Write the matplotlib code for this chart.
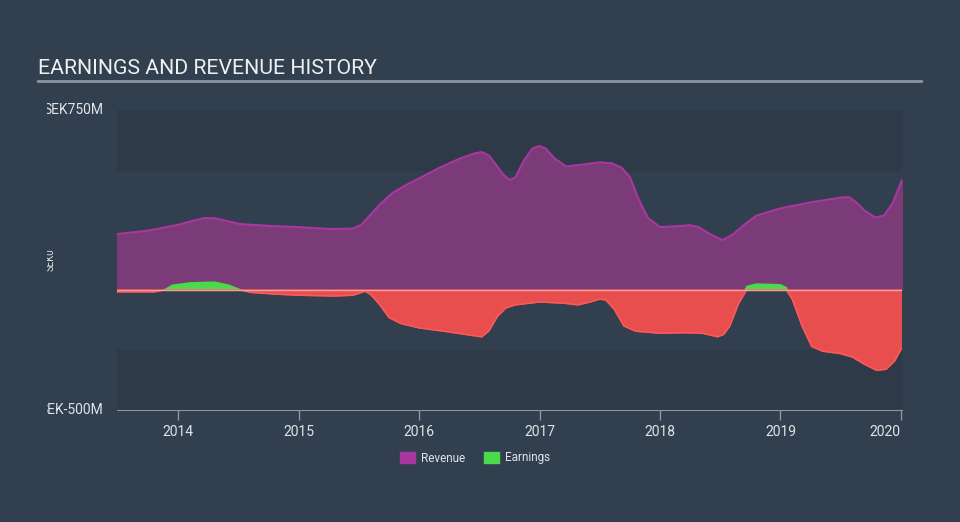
import numpy as np
import matplotlib.pyplot as plt
from matplotlib.patches import Patch
from matplotlib.transforms import Bbox, TransformedBbox

# revenue (SEK millions) against decimal year
rev_t = [2013.49, 2013.76, 2014.0, 2014.12, 2014.22, 2014.30, 2014.4, 2014.51,
         2014.76, 2015.0, 2015.27, 2015.45, 2015.52, 2015.58, 2015.68, 2015.78,
         2015.9, 2016.0, 2016.17, 2016.34, 2016.45, 2016.52, 2016.58, 2016.64,
         2016.7, 2016.75, 2016.8, 2016.87, 2016.94, 2017.0, 2017.05, 2017.12,
         2017.22, 2017.35, 2017.5, 2017.6, 2017.68, 2017.75, 2017.82, 2017.9,
         2018.0, 2018.15, 2018.25, 2018.32, 2018.42, 2018.52, 2018.6, 2018.7,
         2018.8, 2019.0, 2019.25, 2019.5, 2019.57, 2019.63, 2019.7, 2019.79,
         2019.86, 2019.93, 2020.01]
rev_v = [233, 248, 272, 288, 300, 299, 288, 275,
         267, 262, 254, 256, 272, 305, 360, 405,
         440, 465, 510, 548, 568, 575, 560, 520,
         480, 458, 470, 540, 590, 600, 590, 550,
         515, 522, 532, 528, 510, 470, 380, 300,
         262, 266, 270, 262, 232, 208, 230, 272,
         310, 340, 365, 385, 387, 365, 330, 302,
         310, 360, 458]

# earnings (SEK millions)
earn_t = [2013.49, 2013.8, 2013.88, 2013.95, 2014.1, 2014.3, 2014.42, 2014.52,
          2014.6, 2014.8, 2015.0, 2015.3, 2015.45, 2015.55, 2015.6, 2015.67,
          2015.75, 2015.85, 2016.0, 2016.25, 2016.45, 2016.52, 2016.58, 2016.65,
          2016.72, 2016.8, 2017.0, 2017.2, 2017.32, 2017.42, 2017.5, 2017.55,
          2017.62, 2017.7, 2017.8, 2018.0, 2018.2, 2018.35, 2018.48, 2018.53,
          2018.58, 2018.65, 2018.72, 2018.8, 2019.0, 2019.05, 2019.1, 2019.18,
          2019.26, 2019.35, 2019.5, 2019.6, 2019.7, 2019.8, 2019.88, 2019.95, 2020.01]
earn_v = [-8, -8, 0, 20, 30, 33, 20, 0,
          -10, -17, -22, -25, -22, -5, -20, -60,
          -115, -140, -158, -175, -190, -195, -170, -110,
          -75, -62, -50, -55, -62, -50, -38, -42,
          -80, -150, -172, -180, -178, -180, -195, -185,
          -150, -60, 15, 25, 22, 10,
          -40, -150, -235, -255, -265, -280, -310, -335, -330, -295, -240]

years = [2014, 2015, 2016, 2017, 2018, 2019, 2020]

bg = '#323f4e'
plt.rcParams['font.family'] = ['Roboto', 'DejaVu Sans']

fig = plt.figure(figsize=(9.6, 5.22), dpi=100, facecolor=bg)
ax = fig.add_axes([117/960, 112/522, 785/960, 300/522])
ax.set_facecolor(bg)

ax.set_xlim(2013.49, 2020.01)
ax.set_ylim(-500, 750)

# darker bands top and bottom
ax.axhspan(500, 750, color='#2e3a48', zorder=0)
ax.axhspan(-500, -250, color='#2e3a48', zorder=0)

rt = np.array(rev_t)
rv = np.array(rev_v)
ax.fill_between(rt, 0, rv, color='#7b3a78', zorder=2)
ax.plot(rt, rv, color='#a8379f', lw=1.5, zorder=3)

et = np.array(earn_t)
ev = np.array(earn_v)
ax.fill_between(et, 0, ev, where=ev >= 0, interpolate=True, color='#4cd94c', zorder=4)
ax.fill_between(et, 0, ev, where=ev <= 0, interpolate=True, color='#e84e4e', zorder=4)
ax.plot(et, np.minimum(ev, 0), color='#ff5a5a', lw=1, zorder=5)
ax.axhline(0, color='#f2a0a0', lw=1, zorder=6)

for s in ['top', 'right', 'left']:
    ax.spines[s].set_visible(False)
ax.spines['bottom'].set_color('#8d96a0')
ax.set_yticks([])
ax.set_xticks(years)
ax.set_xticklabels([str(y) for y in years])
ax.tick_params(axis='x', colors='#8d96a0', labelcolor='#e0e4e8', labelsize=10, length=7, width=1)
ax.get_xticklabels()[-1].set_horizontalalignment('right')
ax.get_xticklabels()[-1].set_x(2020.13)

# title and underline
fig.text(38/960, 1 - 68/522, 'EARNINGS AND REVENUE HISTORY', color='#eef0f2',
         fontsize=15.3, va='center', ha='left')
fig.add_artist(plt.Line2D([38/960, 921/960], [1 - 81/522, 1 - 81/522],
                          color='#8d96a0', lw=2))

# y labels, clipped on the left like the original
clip = TransformedBbox(Bbox([[47/960, 0], [1, 1]]), fig.transFigure)
for txt, y in [('SEK750M', 110), ('SEK-500M', 410)]:
    t = fig.text(103/960, 1 - y/522, txt, color='#e0e4e8', fontsize=10,
                 ha='right', va='center')
    t.set_clip_box(clip)
    t.set_clip_on(True)
t = fig.text(51/960, 1 - 260/522, 'SEK0', color='#e0e4e8', fontsize=7,
             rotation=90, ha='center', va='center')
t.set_clip_box(clip)
t.set_clip_on(True)

handles = [Patch(color='#a8379f', label='Revenue'),
           Patch(color='#4cd94c', label='Earnings')]
leg = fig.legend(handles=handles, loc='center', bbox_to_anchor=(475/960, 1 - 458/522),
                 ncol=2, frameon=False, fontsize=8.5, handlelength=1.3,
                 handleheight=1.1, columnspacing=1.6, handletextpad=0.5)
for t in leg.get_texts():
    t.set_color('#e0e4e8')

plt.savefig('out.png', dpi=100, facecolor=bg)
